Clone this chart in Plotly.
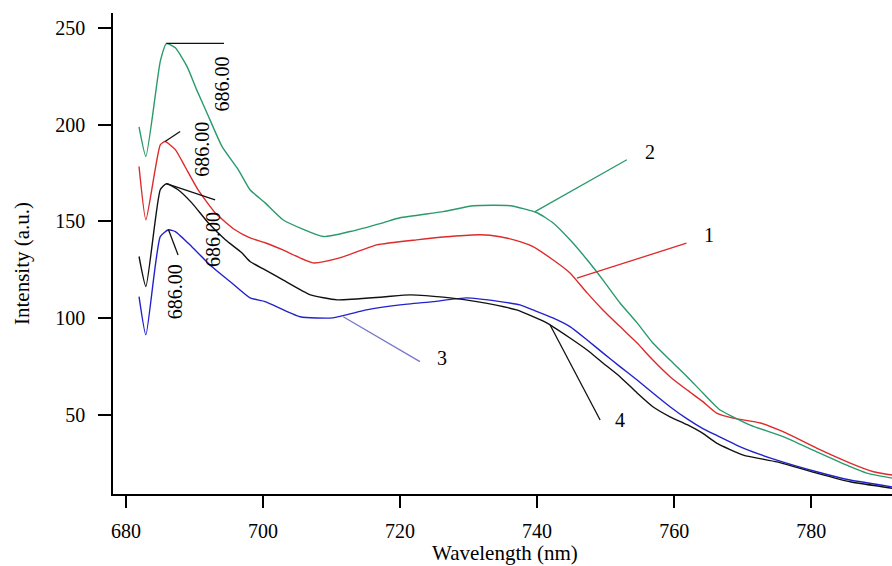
import plotly.graph_objects as go

# ---- data ----
wl_1 = [681.9, 682.9, 685.0, 685.7, 687.2, 688.6, 690.5, 693.0, 695.9, 698.1, 700.3, 702.9,
        707.3, 711.2, 716.6, 722.4, 727.3, 731.7, 734.6, 737.5, 739.4, 742.3, 744.8, 747.3,
        749.6, 752.1, 754.6, 756.9, 759.4, 761.9, 764.2, 766.2, 768.6, 772.6, 775.9, 780.8,
        785.7, 789.1, 791.8]
int_1 = [178.4, 150.9, 189.6, 191.3, 187.1, 178.4, 166.4, 154.5, 145.7, 141.5, 139.0, 135.3,
         128.6, 131.2, 137.9, 140.5, 142.2, 143.1, 142.1, 139.6, 137.0, 130.2, 123.4, 113.1,
         104.3, 95.7, 87.2, 78.4, 69.8, 62.9, 56.9, 51.0, 48.4, 45.9, 41.4, 32.9,
         25.2, 20.7, 19.0]

wl_2 = [681.9, 682.9, 685.0, 685.9, 687.2, 688.9, 690.3, 691.8, 694.0, 696.4, 698.1, 700.3,
        702.9, 708.8, 712.7, 717.5, 720.0, 726.3, 730.7, 736.1, 740.0, 742.3, 744.8, 747.3,
        749.6, 752.1, 754.6, 756.9, 759.4, 761.9, 764.2, 766.7, 768.6, 771.1, 775.9, 780.8,
        785.7, 788.1, 791.8]
int_2 = [198.9, 183.6, 232.7, 241.9, 239.7, 230.1, 218.1, 206.2, 188.8, 176.7, 166.4, 159.6,
         150.9, 142.2, 144.8, 149.3, 151.9, 155.1, 158.1, 158.1, 154.5, 149.3, 140.5, 130.2,
         119.8, 107.9, 97.6, 87.2, 78.4, 69.8, 61.4, 52.6, 49.1, 44.8, 38.8, 31.0,
         23.3, 20.0, 17.4]

wl_3 = [681.9, 682.9, 685.0, 686.2, 687.2, 689.6, 692.5, 695.4, 698.1, 700.3, 705.4, 710.2,
        715.1, 720.0, 724.8, 729.7, 734.6, 737.5, 739.4, 742.3, 744.8, 747.3, 749.6, 752.1,
        754.6, 756.9, 759.4, 761.9, 764.2, 766.2, 770.1, 775.0, 780.8, 785.7, 791.8]
int_3 = [111.2, 91.4, 142.2, 145.7, 144.8, 137.0, 126.7, 118.3, 110.5, 108.6, 100.8, 100.2,
         104.3, 106.9, 108.6, 110.5, 108.6, 106.9, 104.3, 100.2, 95.7, 88.8, 82.1, 75.0,
         68.1, 61.4, 54.3, 48.0, 43.0, 39.5, 32.9, 26.7, 20.7, 16.4, 12.9]

wl_4 = [681.9, 682.9, 685.0, 685.9, 687.6, 689.6, 692.0, 694.5, 696.9, 698.1, 700.3, 702.9,
        706.9, 710.8, 717.5, 721.5, 727.3, 731.2, 737.0, 741.4, 744.8, 747.3, 749.6, 752.1,
        754.6, 756.9, 759.4, 761.9, 764.2, 766.2, 770.1, 775.0, 780.8, 785.7, 791.8]
int_4 = [131.9, 116.4, 166.4, 169.5, 166.4, 159.6, 149.3, 140.5, 133.8, 129.3, 125.0, 119.8,
         112.1, 109.5, 111.0, 112.1, 110.5, 108.6, 104.3, 97.6, 89.8, 83.6, 76.9, 69.8,
         61.4, 54.3, 49.1, 45.0, 40.5, 35.5, 29.3, 25.8, 20.0, 15.5, 12.2]

series_names = ["1", "2", "3", "4"]
series_colors = ["#dd2a2a", "#2a9a6c", "#2222cc", "#111111"]

# peak labels: (peak x, peak y, leader end x, leader end y, label x, label y)
peak_text = "686.00"
peak_leaders = [
    (685.7, 191.3, 687.9, 196.5, 691.1, 187.1),   # curve 1
    (685.9, 242.0, 694.3, 242.0, 694.0, 221.2),   # curve 2
    (686.2, 145.7, 687.6, 132.7, 687.2, 113.6),   # curve 3
    (685.9, 169.5, 693.0, 161.2, 692.7, 140.5),   # curve 4
]
# curve number labels: (start x, start y, end x, end y, text x, text y)
num_leaders = [
    (745.8, 120.7, 761.8, 138.8, 764.0, 143.1),   # 1
    (739.7, 155.1, 753.1, 181.9, 755.4, 185.7),   # 2
    (711.7, 100.8, 722.9, 77.6, 725.1, 79.5),     # 3
    (741.9, 96.5, 749.2, 47.4, 751.1, 47.4),      # 4
]
num_leader_colors = ["#dd2a2a", "#2a9a6c", "#7777cc", "#111111"]

x_ticks = [680, 700, 720, 740, 760, 780]
y_ticks = [50, 100, 150, 200, 250]

# ---- figure ----
fig = go.Figure()
for wl, inten, name, col in zip([wl_1, wl_2, wl_3, wl_4], [int_1, int_2, int_3, int_4],
                                series_names, series_colors):
    fig.add_trace(go.Scatter(x=wl, y=inten, mode="lines", name=name,
                             line=dict(color=col, width=1.4, shape="spline", smoothing=0.5),
                             showlegend=False))

font_family = "Liberation Serif, Times New Roman, serif"
shapes = []
annotations = []
for (px, py, ex, ey, tx, ty), col in zip(peak_leaders, series_colors):
    shapes.append(dict(type="line", x0=px, y0=py, x1=ex, y1=ey, xref="x", yref="y",
                       line=dict(color="#111111", width=1.3)))
    annotations.append(dict(x=tx, y=ty, xref="x", yref="y", text=peak_text, showarrow=False,
                            textangle=-90, xanchor="center", yanchor="middle",
                            font=dict(family=font_family, size=20, color="black")))
for (sx, sy, ex, ey, tx, ty), name, col in zip(num_leaders, series_names, num_leader_colors):
    shapes.append(dict(type="line", x0=sx, y0=sy, x1=ex, y1=ey, xref="x", yref="y",
                       line=dict(color=col, width=1.3)))
    annotations.append(dict(x=tx, y=ty, xref="x", yref="y", text=name, showarrow=False,
                            xanchor="left", yanchor="middle",
                            font=dict(family=font_family, size=20, color="black")))

annotations.append(dict(x=0.503, y=-0.123, xref="paper", yref="paper", text="Wavelength (nm)",
                        showarrow=False, xanchor="center", yanchor="middle",
                        font=dict(family=font_family, size=21, color="black")))
annotations.append(dict(x=-0.117, y=0.48, xref="paper", yref="paper", text="Intensity (a.u.)",
                        showarrow=False, textangle=-90, xanchor="center", yanchor="middle",
                        font=dict(family=font_family, size=21, color="black")))

fig.update_layout(
    width=892, height=566,
    margin=dict(l=113, r=0, t=13, b=72),
    paper_bgcolor="white", plot_bgcolor="white",
    font=dict(family=font_family, size=20, color="black"),
    shapes=shapes, annotations=annotations,
    xaxis=dict(range=[678.1, 791.8], tickvals=x_ticks, showgrid=False, zeroline=False,
               showline=True, linecolor="black", linewidth=1.5,
               ticks="outside", ticklen=12, tickwidth=1.5, tickcolor="black",
               ticklabelstandoff=6, tickfont=dict(family=font_family, size=20)),
    yaxis=dict(range=[9.2, 257.7], tickvals=y_ticks, showgrid=False, zeroline=False,
               showline=True, linecolor="black", linewidth=1.5,
               ticks="outside", ticklen=13, tickwidth=1.5, tickcolor="black",
               ticklabelstandoff=9, tickfont=dict(family=font_family, size=20)),
)

fig.write_html("out.html")
